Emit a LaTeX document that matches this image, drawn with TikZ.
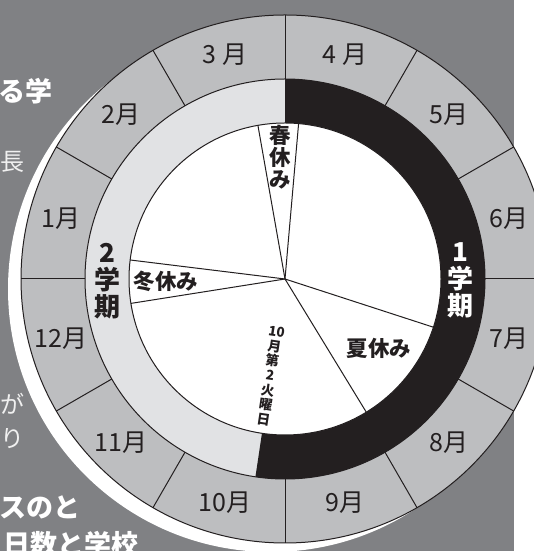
\documentclass[tikz,border=0pt]{standalone}
\usepackage{fontspec}
\newfontfamily\jp{Noto Sans CJK JP}
\definecolor{bggray}{HTML}{808184}
\definecolor{monthgray}{HTML}{BDBEC0}
\definecolor{semlight}{HTML}{E1E2E4}
\definecolor{ink}{HTML}{231F20}
\begin{document}
\begin{tikzpicture}[x=1pt,y=1pt,
  month/.style={font=\jp\fontsize{25}{25}\selectfont, text=ink, inner sep=0pt},
  semlabel/.style={font=\jp\bfseries\fontsize{26}{27}\selectfont, align=center, inner sep=0pt},
  holiday/.style={font=\jp\bfseries\fontsize{21.5}{22}\selectfont, text=ink, inner sep=0pt, align=center},
  datelabel/.style={font=\jp\bfseries\fontsize{13.5}{14.8}\selectfont, text=ink, inner sep=0pt, align=center},
  divider/.style={draw=ink, line width=1pt},
  headline/.style={font=\jp\bfseries\fontsize{27}{27}\selectfont, text=white, inner sep=0pt, anchor=east},
  bodytext/.style={font=\jp\fontsize{24}{24}\selectfont, text=white!94!black, inner sep=0pt, anchor=east}]
\useasboundingbox (0,0) rectangle (534,551);
\clip (0,0) rectangle (534,551);
\fill[white] (0,0) rectangle (534,551);
\fill[bggray] (0,0) rectangle (514,551);
% surrounding text (cut off by the frame)
\node[headline] (h1) at (53,460) {る学};
\node[bodytext] (b1) at (25,389) {長};
\node[bodytext] (b2) at (25,147) {が};
\node[bodytext] (b3) at (25,112) {り};
\node[headline] (h2) at (81,44) {スのと};
\node[headline] (h3) at (139,7) {日数と学校};
% white shadow disc
\fill[white] (271,262) circle (263);
\begin{scope}[shift={(285,272)}]
  \coordinate (C) at (0,0);
  \fill[monthgray] (C) circle (264);
  \fill[semlight] (C) circle (200);
  \fill[ink] (C) -- (90:200) arc (90:-98.5:200) -- cycle;
  \fill[white] (C) circle (156);
  \draw[divider] (C) circle (264);
  \draw[divider] (C) circle (200);
  \draw[divider] (C) circle (156);
  \foreach \a in {0,30,...,330} \draw[divider] (\a:200) -- (\a:264);
  % pie slices
  \foreach \a in {85,100,173,189,-18,-58.6} \draw[divider] (C) -- (\a:156);
  % month labels
  \node[month] (m4) at (75:232) {4 月};
  \node[month] (m5) at (45:232) {5月};
  \node[month] (m6) at (15:232) {6月};
  \node[month] (m7) at (-15:232) {7月};
  \node[month] (m8) at (-45:232) {8月};
  \node[month] (m9) at (-75:232) {9月};
  \node[month] (m10) at (-105:232) {10月};
  \node[month] (m11) at (-135:232) {11月};
  \node[month] (m12) at (-165:232) {12月};
  \node[month] (m1) at (165:232) {1月};
  \node[month] (m2) at (135:232) {2月};
  \node[month] (m3) at (105:232) {3 月};
\end{scope}
% semester labels
\node[semlabel, text=white] (s1) at (460,271) {1\\学\\期};
\node[semlabel, text=ink] (s2) at (107,270) {2\\学\\期};
% holiday labels
\node[holiday] (spring) at (280,394) {春\\休\\み};
\node[holiday] (winter) at (166,270) {冬休み};
\node[holiday] (summer) at (379,203) {夏休み};
\node[datelabel, rotate=-8.5] (date) at (270,175) {10\\月\\第\\2\\火\\曜\\日};
\end{tikzpicture}
\end{document}
